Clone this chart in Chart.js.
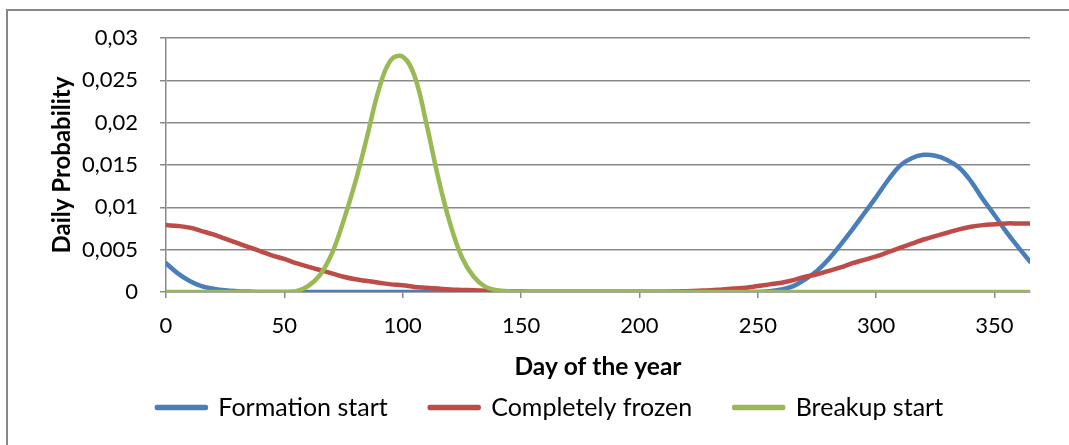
<!DOCTYPE html>
<html>
<head>
<meta charset="utf-8">
<script src="https://cdn.jsdelivr.net/npm/chart.js@4"></script>
<style>
  html, body { margin: 0; padding: 0; background: #fff; }
  #wrap { position: relative; width: 1069px; height: 445px; overflow: hidden; }
  #frame { position: absolute; left: 6px; top: 9px; width: 1200px; height: 600px; border: 2px solid #878787; }
  #c { position: absolute; left: 0; top: 0; }
</style>
</head>
<body>
<div id="wrap">
  <div id="frame"></div>
  <canvas id="c" width="1069" height="445"></canvas>
</div>
<script>
// day of the year, one point every 5 days
const days = [
  0, 5, 10, 15, 20, 25, 30, 35, 40, 45, 50, 55, 60, 65, 70, 75, 80, 85, 90, 95,
  100, 105, 110, 115, 120, 125, 130, 135, 140, 145, 150, 155, 160, 165, 170, 175, 180, 185, 190, 195,
  200, 205, 210, 215, 220, 225, 230, 235, 240, 245, 250, 255, 260, 265, 270, 275, 280, 285, 290, 295,
  300, 305, 310, 315, 320, 325, 330, 335, 340, 345, 350, 355, 360, 365
];

const formationStart = [
  0.0034, 0.0022, 0.0013, 0.0007, 0.0004, 0.0002, 0.0001, 0.00005, 0, 0, 0, 0, 0, 0, 0, 0, 0, 0, 0, 0,
  0, 0, 0, 0, 0, 0, 0, 0, 0, 0, 0, 0, 0, 0, 0, 0, 0, 0, 0, 0,
  0, 0, 0, 0, 0, 0, 0, 0, 0, 0, 0, 0.0001, 0.0003, 0.0007, 0.0015, 0.0025, 0.0039, 0.0056, 0.0074, 0.0093,
  0.0112, 0.0132, 0.0149, 0.0158, 0.0162, 0.0161, 0.0156, 0.0147, 0.0131, 0.0110, 0.0091, 0.0071, 0.0053, 0.0036
];

const completelyFrozen = [
  0.0079, 0.0078, 0.0076, 0.0072, 0.0068, 0.0063, 0.0058, 0.0053, 0.0048, 0.0043, 0.0039, 0.0034, 0.0030, 0.0026, 0.0022, 0.0018, 0.0015, 0.0013, 0.0011, 0.0009,
  0.0008, 0.0006, 0.0005, 0.0004, 0.0003, 0.00025, 0.0002, 0.00015, 0.0001, 0.0001, 0.00005, 0.00004, 0.00003, 0.00002, 0.00002, 0.00002, 0.00002, 0.00002, 0.00002, 0.00002,
  0.00002, 0.00002, 0.00003, 0.00005, 0.0001, 0.00015, 0.0002, 0.0003, 0.0004, 0.0005, 0.0007, 0.0009, 0.0011, 0.0014, 0.0018, 0.0021, 0.0025, 0.0029, 0.0034, 0.0038,
  0.0042, 0.0047, 0.0052, 0.0057, 0.0062, 0.0066, 0.0070, 0.0074, 0.0077, 0.0079, 0.0080, 0.0081, 0.0081, 0.0081
];

const breakupStart = [
  0, 0, 0, 0, 0, 0, 0, 0, 0, 0, 0, 0.0001, 0.0007, 0.0020, 0.0045, 0.0084, 0.0130, 0.0184, 0.0240, 0.0274,
  0.0278, 0.0255, 0.0199, 0.0135, 0.0081, 0.0041, 0.0018, 0.0006, 0.0002, 0.0001, 0, 0, 0, 0, 0, 0, 0, 0, 0, 0,
  0, 0, 0, 0, 0, 0, 0, 0, 0, 0, 0, 0, 0, 0, 0, 0, 0, 0, 0, 0,
  0, 0, 0, 0, 0, 0, 0, 0, 0, 0, 0, 0, 0, 0
];

const yTicks = [0, 0.005, 0.01, 0.015, 0.02, 0.025, 0.03];

const gridColor = '#898989';
const font = 'Lato';

function toPoints(values) {
  return days.map((d, i) => ({ x: d, y: values[i] }));
}

function series(label, values, color, order) {
  return {
    label: label,
    data: toPoints(values),
    borderColor: color,
    backgroundColor: color,
    borderWidth: 4.5,
    borderCapStyle: 'round',
    borderJoinStyle: 'round',
    pointRadius: 0,
    tension: 0.4,
    fill: false,
    order: order
  };
}

new Chart(document.getElementById('c'), {
  type: 'line',
  data: {
    datasets: [
      series('Formation start', formationStart, '#4a7ebb', 2),
      series('Completely frozen', completelyFrozen, '#be4b48', 1),
      series('Breakup start', breakupStart, '#98b954', 0)
    ]
  },
  options: {
    responsive: false,
    animation: false,
    // left padding shifts the legend to the right like in the original
    layout: { padding: { left: 70, right: 39, top: 38, bottom: 15 } },
    scales: {
      x: {
        type: 'linear',
        min: 0,
        max: 365,
        afterFit: s => { s.height = 61; },
        ticks: {
          stepSize: 50,
          includeBounds: false,
          padding: 15,
          color: '#000',
          font: { family: font, size: 22 }
        },
        grid: { drawOnChartArea: false, drawTicks: true, tickLength: 6, color: gridColor, lineWidth: 1.5 },
        border: { display: true, color: gridColor, width: 1.5 },
        title: {
          display: true,
          text: 'Day of the year',
          color: '#000',
          font: { family: font, size: 24.5, weight: 'bold' },
          padding: { top: 0, bottom: -29 }
        }
      },
      y: {
        min: 0,
        max: 0.03,
        afterFit: s => { s.width = 96; },
        afterBuildTicks: s => { s.ticks = yTicks.map(v => ({ value: v })); },
        ticks: {
          padding: 22,
          color: '#000',
          font: { family: font, size: 22 },
          callback: v => String(+v.toFixed(3)).replace('.', ',')
        },
        grid: { color: gridColor, lineWidth: 1.5, tickLength: 6 },
        border: { display: true, color: gridColor, width: 1.5 },
        title: {
          display: true,
          text: 'Daily Probability',
          color: '#000',
          font: { family: font, size: 24, weight: 'bold' },
          padding: { top: -22.4, bottom: 0 }
        }
      }
    },
    plugins: {
      tooltip: { enabled: false },
      legend: {
        position: 'bottom',
        labels: {
          boxWidth: 49,
          boxHeight: 1,
          padding: 42,
          color: '#000',
          font: { family: font, size: 25 },
          sort: (a, b) => a.datasetIndex - b.datasetIndex
        }
      }
    }
  }
});
</script>
</body>
</html>
